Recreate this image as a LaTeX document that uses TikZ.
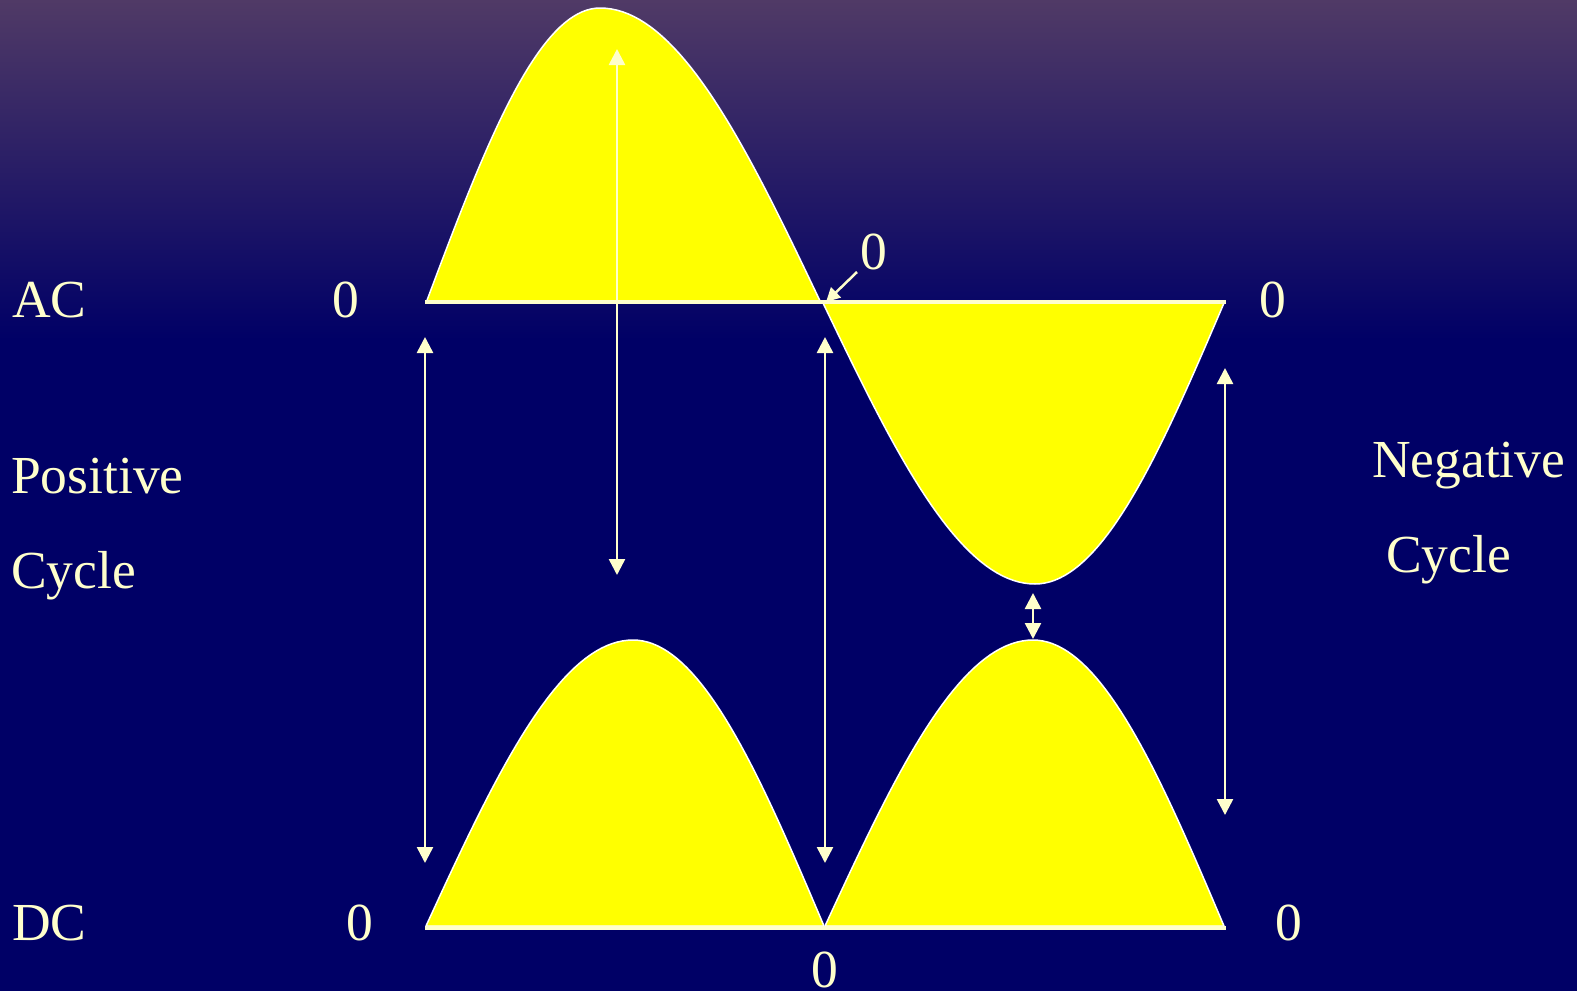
\documentclass[tikz,border=0pt]{standalone}
\usepackage{fontspec}
\setmainfont{Liberation Serif}
\usetikzlibrary{arrows.meta}
\definecolor{bgtop}{RGB}{80,58,102}
\definecolor{navy}{RGB}{0,0,102}
\definecolor{cream}{RGB}{255,255,204}
\definecolor{wavey}{RGB}{255,255,0}
\tikzset{
  lbl/.style={text=cream, inner sep=0pt, font=\fontsize{53.5}{60}\selectfont},
  wave/.style={fill=wavey, draw=white, line width=1.5pt, line join=round},
  baseline/.style={draw=cream, line width=4pt},
  dbl/.style={draw=cream, line width=2.5pt, {Triangle[width=16pt,length=16pt]}-{Triangle[width=16pt,length=16pt]}},
  sgl/.style={draw=cream, line width=2.5pt, -{Triangle[width=14pt,length=14pt]}}
}
\begin{document}
\begin{tikzpicture}[x=1pt,y=-1pt]
\useasboundingbox (0,0) rectangle (1577,991);
% background
\shade[top color=bgtop, bottom color=navy] (0,0) rectangle (1577,340);
\fill[navy] (0,339) rectangle (1577,991);

% AC positive half
\filldraw[wave] (426,303)
  -- plot[domain=0:90, samples=40] ({426+\x/90*(600-426)},{303-295*sin(\x)})
  -- plot[domain=90:180, samples=40] ({600+(\x-90)/90*(821-600)},{303-295*sin(\x)})
  -- cycle;
% AC negative half
\filldraw[wave] (823,303)
  -- plot[domain=0:90, samples=40] ({823+\x/90*(1035-823)},{303+281*sin(\x)})
  -- plot[domain=90:180, samples=40] ({1035+(\x-90)/90*(1224-1035)},{303+281*sin(\x)})
  -- cycle;
% DC humps
\filldraw[wave] (426,926)
  -- plot[domain=0:90, samples=40] ({426+\x/90*(633-426)},{926-286*sin(\x)})
  -- plot[domain=90:180, samples=40] ({633+(\x-90)/90*(824-633)},{926-286*sin(\x)})
  -- cycle;
\filldraw[wave] (825,926)
  -- plot[domain=0:90, samples=40] ({825+\x/90*(1033-825)},{926-286*sin(\x)})
  -- plot[domain=90:180, samples=40] ({1033+(\x-90)/90*(1224-1033)},{926-286*sin(\x)})
  -- cycle;

% baselines
\coordinate (acL) at (425,302);
\coordinate (acR) at (1226,302);
\coordinate (dcL) at (425,928);
\coordinate (dcR) at (1226,928);
\draw[baseline] (acL) -- (acR);
\draw[baseline] (dcL) -- (dcR);

% arrows
\coordinate (a1t) at (617,49);   \coordinate (a1b) at (617,575);
\coordinate (a2t) at (425,337);  \coordinate (a2b) at (425,863);
\coordinate (a3t) at (825,337);  \coordinate (a3b) at (825,863);
\coordinate (a4t) at (1225,368); \coordinate (a4b) at (1225,815);
\coordinate (a5t) at (1033,593); \coordinate (a5b) at (1033,639);
\coordinate (d1s) at (857,272);  \coordinate (d1e) at (826,302);
\draw[dbl] (a1t) -- (a1b);
\draw[dbl] (a2t) -- (a2b);
\draw[dbl] (a3t) -- (a3b);
\draw[dbl] (a4t) -- (a4b);
\draw[dbl] (a5t) -- (a5b);
\draw[sgl] (d1s) -- (d1e);

% labels
\node[lbl, anchor=base west] (ac) at (12,317) {AC};
\node[lbl, anchor=base] (z1) at (346,317) {0};
\node[lbl, anchor=base] (z2) at (874,269) {0};
\node[lbl, anchor=base] (z3) at (1273,317) {0};
\node[lbl, anchor=base west] (pos) at (11,493) {Positive};
\node[lbl, anchor=base west] (cyc1) at (11,588) {Cycle};
\node[lbl, anchor=base west] (neg) at (1372,477) {Negative};
\node[lbl, anchor=base west] (cyc2) at (1386,572) {Cycle};
\node[lbl, anchor=base west] (dc) at (12,940) {DC};
\node[lbl, anchor=base] (z4) at (360,940) {0};
\node[lbl, anchor=base] (z5) at (1289,940) {0};
\node[lbl, anchor=base] (z6) at (825,987) {0};
\end{tikzpicture}
\end{document}
